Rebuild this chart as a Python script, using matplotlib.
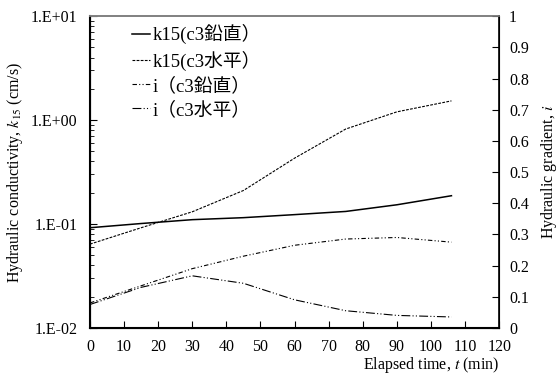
import matplotlib
matplotlib.use("Agg")
import matplotlib.pyplot as plt
from matplotlib.ticker import FixedLocator, FixedFormatter, LogLocator, NullFormatter

plt.rcParams["font.family"] = ["Liberation Serif", "Noto Sans CJK JP"]
plt.rcParams["mathtext.fontset"] = "stix"

# elapsed time (min)
t = [0, 15, 30, 45, 60, 75, 90, 106]
# hydraulic conductivity k15 (cm/s)
k15_vert = [0.092, 0.101, 0.110, 0.115, 0.123, 0.132, 0.153, 0.187]
k15_horiz = [0.064, 0.092, 0.131, 0.21, 0.43, 0.82, 1.2, 1.53]
# hydraulic gradient i
i_vert = [0.08, 0.135, 0.19, 0.23, 0.265, 0.285, 0.29, 0.275]
i_horiz = [0.075, 0.13, 0.167, 0.143, 0.09, 0.055, 0.04, 0.035]

labels = ["k15(c3鉛直）", "k15(c3水平）", "i（c3鉛直）", "i（c3水平）"]

fig = plt.figure(figsize=(5.59, 3.76), dpi=100)
ax = fig.add_axes([0.161, 0.128, 0.732, 0.829])
ax2 = ax.twinx()

l1, = ax.plot(t, k15_vert, color="black", lw=1.1, ls="-")
l2, = ax.plot(t, k15_horiz, color="black", lw=0.8, ls=(0, (2.5, 1.2)))
l3, = ax2.plot(t, i_vert, color="black", lw=0.8, ls=(0, (4, 2, 1, 2, 1, 2)))
l4, = ax2.plot(t, i_horiz, color="black", lw=0.8, ls=(0, (8, 2, 1, 2, 1, 2)))

ax.set_yscale("log")
ax.set_ylim(0.01, 10)
ax.set_xlim(0, 120)
ax.set_xticks(range(0, 121, 10))
ax.yaxis.set_major_locator(FixedLocator([0.01, 0.1, 1, 10]))
ax.yaxis.set_major_formatter(FixedFormatter(["1.E-02", "1.E-01", "1.E+00", "1.E+01"]))
ax.yaxis.set_minor_locator(LogLocator(base=10, subs=range(2, 10)))
ax.yaxis.set_minor_formatter(NullFormatter())

ax2.set_ylim(0, 1)
ax2.set_yticks([x / 10 for x in range(11)])
ax2.set_yticklabels(["0", "0.1", "0.2", "0.3", "0.4", "0.5", "0.6", "0.7", "0.8", "0.9", "1"])

fs = 11.5
ax.tick_params(axis="x", direction="in", length=5, labelsize=fs, pad=8)
ax.tick_params(axis="y", which="major", direction="in", length=5, labelsize=fs, pad=9)
ax.tick_params(axis="y", which="minor", direction="in", length=3)
ax2.tick_params(axis="y", direction="in", length=5, labelsize=fs, pad=7)

for a in (ax, ax2):
    a.spines["top"].set_color("#808080")
    a.spines["top"].set_linewidth(1.2)
ax.spines["left"].set_linewidth(1.5)
ax.spines["bottom"].set_linewidth(1.5)
ax2.spines["right"].set_linewidth(1.2)

ax.set_ylabel("Hydraulic conductivity, $k_{\\mathit{15}}$ (cm/s)", fontsize=fs, labelpad=4)
ax2.set_ylabel("Hydraulic gradient, $i$", fontsize=fs, labelpad=7)
ax.set_xlabel("Elapsed time, $t$ (min)", fontsize=fs, loc="right", labelpad=0)

ax2.legend([l1, l2, l3, l4], labels, loc="upper left", bbox_to_anchor=(0.075, 1.01),
           frameon=False, fontsize=13.5, handlelength=0.95, handletextpad=0.15,
           labelspacing=0.33, borderaxespad=0.2)

fig.savefig("out.png", dpi=100)
